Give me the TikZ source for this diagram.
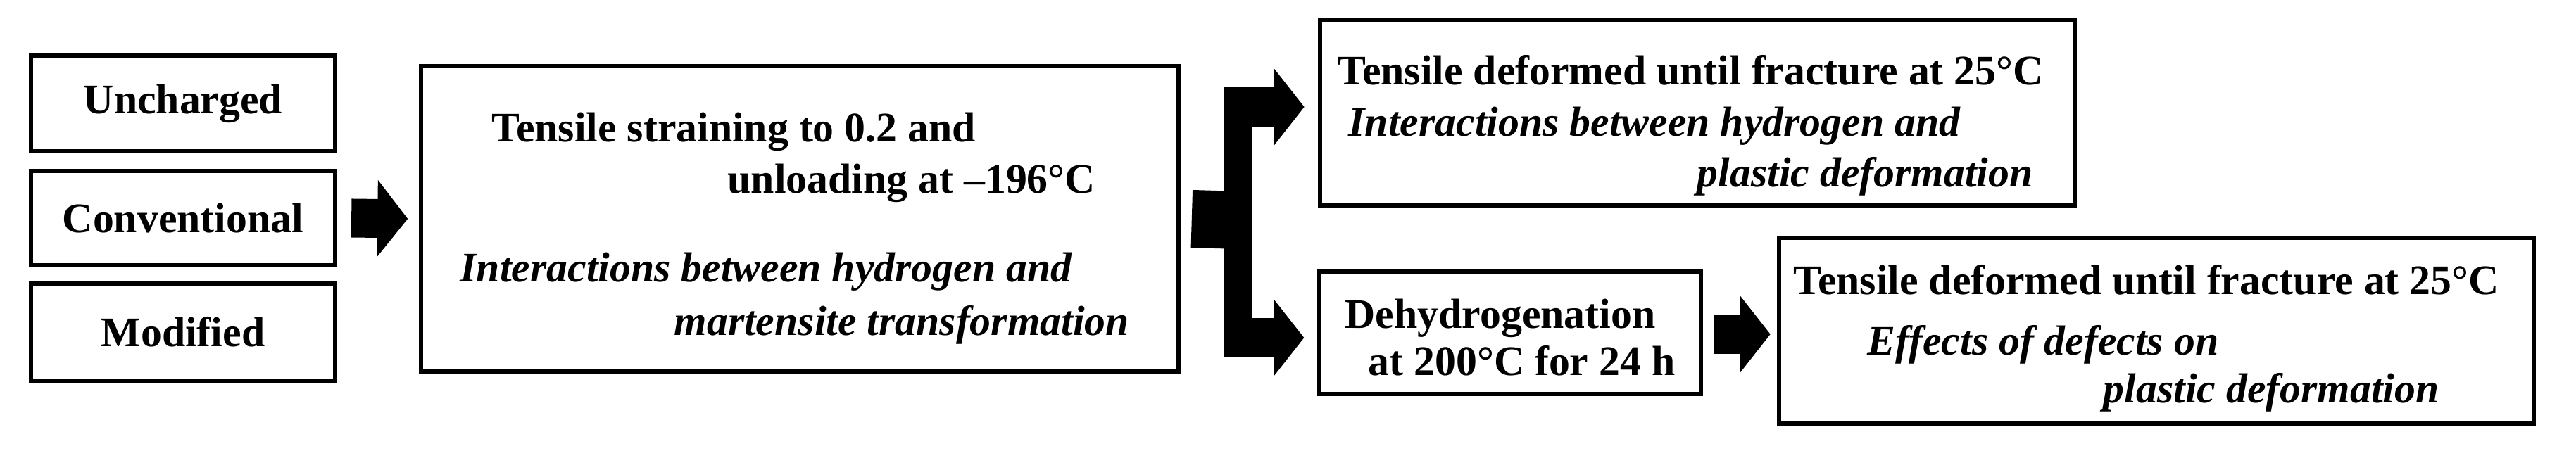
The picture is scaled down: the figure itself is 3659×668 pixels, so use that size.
\documentclass[tikz,border=0pt]{standalone}
\usepackage{fontspec}
\setmainfont{Liberation Serif}
\usetikzlibrary{arrows.meta}
\tikzset{
  box/.style={draw, line width=1.7pt, inner sep=0pt},
  txt/.style={anchor=west, inner sep=0pt, font=\fontsize{17}{20}\selectfont\bfseries},
  itxt/.style={anchor=west, inner sep=0pt, font=\fontsize{17}{20}\selectfont\bfseries\itshape},
  fat/.style={line width=0.55cm, -{Triangle[length=0.43cm,width=1.07cm]}}
}
\begin{document}
\begin{tikzpicture}[x=0.01cm, y=-0.01cm]
\useasboundingbox (0,0) rectangle (3659,668);
% left column
\node[box, minimum width=4.32cm, minimum height=1.36cm] (unch) at (260,147) {};
\node[box, minimum width=4.32cm, minimum height=1.33cm] (conv) at (260,310) {};
\node[box, minimum width=4.32cm, minimum height=1.37cm] (modi) at (260,472) {};
\node[txt, anchor=center] (unchT) at (unch) {Uncharged};
\node[txt, anchor=center] (convT) at (conv) {Conventional};
\node[txt, anchor=center] (modiT) at (modi) {Modified};

% straining
\node[box, minimum width=10.75cm, minimum height=4.34cm] (strain) at (1136,311) {};
\node[txt]  (s1) at (698,187) {Tensile straining to 0.2 and};
\node[txt]  (s2) at (1033,260) {unloading at \textendash196°C};
\node[itxt] (s3) at (653,386) {Interactions between hydrogen and};
\node[itxt] (s4) at (957,462) {martensite transformation};

% upper branch
\node[box, minimum width=10.72cm, minimum height=2.64cm] (frac) at (2411,160) {};
\node[txt]  (f1) at (1900,100) {Tensile deformed until fracture at 25°C};
\node[itxt] (f2) at (1915,179) {Interactions between hydrogen and};
\node[itxt] (f3) at (2410,251) {plastic deformation};

% lower branch
\node[box, minimum width=5.41cm, minimum height=1.74cm] (dehy) at (2145,473) {};
\node[txt] (d1) at (1910,452) {Dehydrogenation};
\node[txt] (d2) at (1943,513) {at 200°C for 24 h};
\node[box, minimum width=10.72cm, minimum height=2.63cm] (frac2) at (3063,470) {};
\node[txt]  (g1) at (2547,398) {Tensile deformed until fracture at 25°C};
\node[itxt] (g2) at (2652,490) {Effects of defects on};
\node[itxt] (g3) at (2987,558) {plastic deformation};

% block arrows
\coordinate (fork) at (1759,313);
\coordinate (forkT) at (1759,126);
\coordinate (forkB) at (1759,507);
\draw[fat] ([xshift=0.2cm]conv.east) -- ([xshift=-0.16cm]strain.west);
\draw[line width=0.82cm] ([xshift=0.16cm]strain.east) -- ([xshift=0.01cm]fork);
\draw[line width=0.4cm] (forkT) -- (forkB);
\draw[fat] (1739,152) -- ([xshift=-0.19cm]frac.west |- 0,152);
\draw[fat] (1739,480) -- ([xshift=-0.19cm]dehy.west |- 0,480);
\draw[fat] ([xshift=0.15cm]dehy.east |- 0,475) -- ([xshift=-0.09cm]frac2.west |- 0,475);
\end{tikzpicture}
\end{document}
